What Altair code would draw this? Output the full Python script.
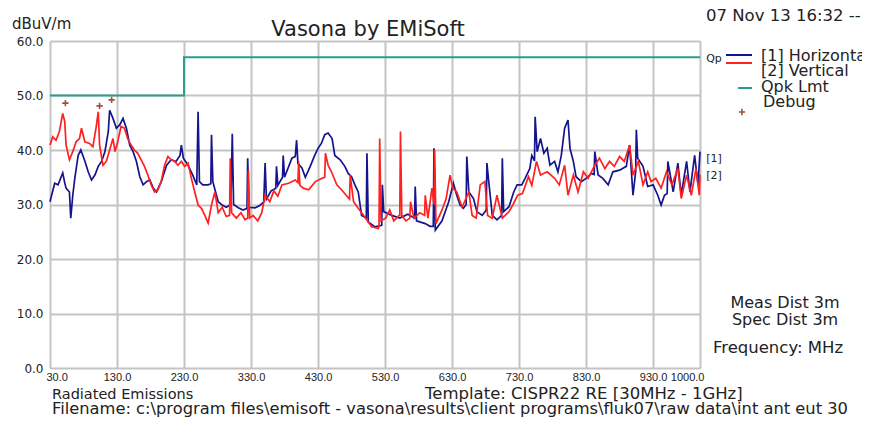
import altair as alt
import pandas as pd

# ---------------- data (MHz, dBuV/m) ----------------
h_freq = [30, 37, 42, 49, 52, 54, 59, 61, 64, 67, 72, 76, 82, 87, 92, 97, 102, 107, 112, 117,
          119, 124, 129, 134, 139, 144, 149, 154, 159, 164, 169, 174, 179, 184, 189, 196, 204, 211, 218, 224,
          226, 229, 236, 243, 249, 251, 253, 258, 266, 270, 271, 273, 281, 287, 293, 300, 302, 304, 311, 318,
          324, 325, 327, 336, 343, 349, 351, 353, 360, 367, 368, 370, 377, 378, 380, 391, 396, 398, 400, 406,
          411, 418, 425, 430, 435, 440, 445, 451, 455, 463, 470, 475, 480, 485, 490, 495, 502, 503, 505, 515,
          525, 526, 528, 540, 552, 564, 574, 575, 577, 590, 597, 602, 603, 605, 615, 625, 632, 637, 642, 647,
          651, 652, 655, 662, 667, 675, 681, 682, 685, 690, 697, 704, 705, 707, 715, 722, 727, 734, 739, 746,
          749, 753, 754, 757, 762, 767, 772, 776, 783, 788, 793, 798, 803, 806, 811, 815, 823, 830, 838, 842,
          843, 848, 855, 863, 870, 880, 890, 895, 900, 904, 905, 907, 915, 922, 930, 937, 942, 947, 951, 952,
          960, 967, 972, 980, 985, 992, 997, 1000]
h_level = [30.5, 33.9, 33.6, 35.8, 34.0, 33.0, 32.3, 27.5, 31.7, 34.8, 39.0, 40.0, 38.0, 36.0, 34.5, 35.4, 37.0, 37.9, 39.7, 43.4,
           47.3, 45.8, 44.0, 44.6, 45.8, 44.0, 40.9, 39.7, 37.9, 35.1, 33.6, 34.2, 34.5, 33.0, 32.3, 34.2, 37.2, 38.2, 37.9, 39.0,
           40.9, 38.5, 37.2, 35.4, 33.6, 47.0, 34.2, 33.6, 33.6, 33.8, 42.8, 34.2, 30.5, 29.9, 29.5, 30.0, 43.0, 30.0, 29.4, 29.0,
           29.3, 38.5, 29.5, 29.4, 29.8, 30.5, 37.6, 31.0, 32.5, 33.0, 37.0, 33.5, 35.0, 39.0, 35.0, 38.5, 38.8, 41.8, 37.5, 36.7,
           35.0, 36.9, 39.0, 40.3, 41.2, 42.8, 43.1, 42.1, 39.0, 38.2, 37.0, 35.7, 35.1, 33.6, 32.3, 28.0, 27.5, 39.4, 26.8, 25.9,
           26.2, 33.6, 28.7, 28.0, 27.5, 28.2, 27.5, 33.3, 27.0, 26.5, 26.0, 26.0, 40.3, 25.3, 27.0, 30.5, 33.9, 31.7, 29.9, 29.3,
           30.0, 38.8, 32.3, 31.1, 28.7, 28.0, 29.0, 37.6, 33.9, 28.0, 27.2, 28.0, 38.5, 28.7, 29.6, 32.3, 33.6, 33.6, 34.8, 36.6,
           39.0, 38.0, 46.1, 39.7, 42.1, 39.4, 40.3, 37.2, 37.9, 36.0, 39.0, 44.0, 45.5, 40.3, 37.9, 35.1, 34.2, 34.8, 35.7, 35.5,
           39.7, 35.4, 34.8, 33.6, 36.0, 36.3, 37.0, 40.9, 31.7, 36.0, 43.7, 38.5, 37.0, 33.3, 33.6, 31.7, 29.9, 31.7, 32.0, 37.9,
           32.3, 37.6, 31.7, 37.9, 32.3, 39.0, 33.6, 39.7]

v_freq = [30, 34, 39, 44, 49, 52, 54, 59, 64, 69, 74, 77, 82, 89, 94, 99, 102, 104, 109, 114,
          119, 124, 127, 131, 136, 141, 146, 151, 156, 161, 166, 171, 176, 181, 186, 191, 196, 201, 206, 211,
          216, 221, 226, 231, 236, 241, 246, 251, 256, 261, 266, 271, 276, 281, 287, 293, 298, 299, 301, 308,
          315, 321, 325, 326, 328, 333, 340, 346, 351, 358, 364, 370, 376, 386, 396, 400, 401, 403, 408, 416,
          426, 436, 440, 441, 445, 450, 458, 465, 472, 477, 478, 483, 490, 498, 505, 510, 520, 521, 522, 524,
          531, 537, 543, 551, 552, 553, 555, 561, 567, 568, 573, 582, 589, 590, 594, 600, 603, 604, 606, 615,
          621, 627, 631, 637, 645, 655, 660, 666, 672, 679, 683, 690, 697, 705, 715, 721, 728, 735, 744, 749,
          756, 762, 772, 783, 790, 798, 803, 811, 818, 826, 833, 843, 850, 858, 865, 872, 880, 887, 895, 900,
          908, 915, 922, 927, 934, 942, 950, 958, 967, 972, 980, 987, 994, 999, 1000]
v_level = [40.9, 42.4, 41.8, 43.4, 46.7, 45.2, 40.9, 38.2, 39.7, 41.5, 42.1, 44.0, 41.5, 41.2, 40.6, 44.3, 47.0, 40.9, 37.2, 37.9,
           40.0, 42.1, 39.7, 41.5, 44.3, 44.0, 42.1, 40.9, 40.0, 39.4, 38.2, 37.0, 35.4, 33.6, 32.3, 32.7, 34.2, 37.2, 38.8, 38.2,
           37.9, 37.2, 37.9, 37.0, 37.6, 34.8, 32.3, 29.9, 29.3, 28.0, 26.6, 29.9, 32.3, 28.5, 29.5, 27.8, 28.0, 38.5, 28.5, 27.5,
           28.5, 27.2, 27.5, 36.3, 27.5, 28.0, 27.0, 28.5, 31.7, 30.5, 32.5, 31.5, 33.6, 33.9, 34.5, 34.0, 37.9, 33.5, 33.0, 32.7,
           34.2, 34.8, 35.0, 39.4, 37.2, 36.0, 33.6, 32.7, 31.7, 31.0, 35.4, 30.5, 29.3, 28.0, 26.8, 25.9, 25.6, 26.0, 42.1, 27.0,
           27.5, 29.0, 27.0, 28.0, 28.0, 43.4, 28.0, 27.0, 27.5, 30.5, 27.5, 28.5, 28.0, 31.7, 27.5, 33.0, 30.0, 40.0, 26.5, 29.0,
           31.0, 35.4, 33.0, 32.3, 29.5, 32.3, 28.0, 27.5, 33.6, 34.2, 28.0, 27.5, 31.7, 27.5, 28.7, 30.0, 31.7, 32.0, 35.1, 33.5,
           37.9, 35.4, 36.0, 34.8, 33.6, 37.2, 31.7, 35.4, 32.3, 36.0, 34.8, 37.2, 38.5, 36.6, 37.9, 37.0, 38.8, 37.9, 40.9, 35.4,
           37.9, 33.6, 36.0, 34.2, 34.8, 33.0, 36.0, 33.6, 36.6, 31.1, 35.4, 31.7, 36.6, 31.7, 35.5]

lim_freq = [30, 230, 1000]
lim_level = [50.0, 57.0, 57.0]

dbg_freq = [53, 104, 122]
dbg_level = [48.6, 48.1, 49.2]

x_ticks = [30, 130, 230, 330, 430, 530, 630, 730, 830, 930, 1000]
y_ticks = [0, 10, 20, 30, 40, 50, 60]

BLUE = "#14148c"
RED = "#ff2020"
TEAL = "#2a9d8f"
DBG = "#a0503a"
GRID = "#c4c4c4"
TXT = "#222222"

traces = pd.concat([
    pd.DataFrame({"freq": h_freq, "level": h_level, "trace": "[1] Horizontal"}),
    pd.DataFrame({"freq": v_freq, "level": v_level, "trace": "[2] Vertical"}),
])
lim_df = pd.DataFrame({"freq": lim_freq, "level": lim_level})
dbg_df = pd.DataFrame({"freq": dbg_freq, "level": dbg_level})

xscale = alt.Scale(domain=[30, 1000], nice=False, zero=False)
yscale = alt.Scale(domain=[0, 60], nice=False)

x_enc = alt.X("freq:Q", scale=xscale, axis=alt.Axis(
    values=x_ticks, format=".1f", title=None, ticks=False, domain=False,
    grid=True, gridColor=GRID, gridWidth=2,
    labelFont="Liberation Sans", labelFontSize=11, labelColor=TXT,
    labelPadding=3, labelFlush=True, labelFlushOffset=4))
y_enc = alt.Y("level:Q", scale=yscale, axis=alt.Axis(
    values=y_ticks, format=".1f", title=None, ticks=False, domain=False,
    grid=True, gridColor=GRID, gridWidth=2,
    labelFont="DejaVu Sans", labelFontSize=12, labelColor=TXT, labelPadding=7))

lines = alt.Chart(traces).mark_line(strokeWidth=1.7).encode(
    x=x_enc, y=y_enc,
    color=alt.Color("trace:N", scale=alt.Scale(domain=["[1] Horizontal", "[2] Vertical"], range=[BLUE, RED]), legend=None),
    order=alt.Order("freq:Q"),
)

limit = alt.Chart(lim_df).mark_line(color=TEAL, strokeWidth=2, interpolate="step-after").encode(
    x=alt.X("freq:Q", scale=xscale), y=alt.Y("level:Q", scale=yscale))

plus = "M-1,0H1M0,-1V1"
dbg = alt.Chart(dbg_df).mark_point(shape=plus, filled=False, color=DBG, strokeWidth=1.6, size=40, opacity=1).encode(
    x=alt.X("freq:Q", scale=xscale), y=alt.Y("level:Q", scale=yscale))

one = alt.Data(values=[{}])


def label(text, x, y, size, align="left", font="DejaVu Sans", color=TXT):
    return alt.Chart(one).mark_text(text=text, align=align, baseline="middle", font=font,
                                    fontSize=size, color=color).encode(x=alt.value(x), y=alt.value(y))


def seg(x1, x2, y, color, w=2):
    return alt.Chart(one).mark_rule(color=color, strokeWidth=w).encode(
        x=alt.value(x1), x2=alt.value(x2), y=alt.value(y))


annots = [
    label("dBuV/m", -38, -17, 15),
    label("Vasona by EMiSoft", 318, -11, 21, align="center"),
    label("07 Nov 13 16:32 --", 656, -25, 16.5),
    label("Qp", 664, 18, 11, align="center"),
    seg(676, 702, 14, BLUE),
    seg(676, 702, 22, RED),
    seg(688, 702, 47, TEAL),
    alt.Chart(one).mark_point(shape=plus, filled=False, color=DBG, strokeWidth=1.6, size=40, opacity=1).encode(
        x=alt.value(692), y=alt.value(71)),
    label("[1] Horizontal", 711, 15, 16),
    label("[2] Vertical", 711, 30, 16),
    label("Qpk Lmt", 711, 46, 16),
    label("Debug", 713, 61, 16),
    label("[1]", 664, 118, 11, align="center"),
    label("[2]", 664, 135, 11, align="center"),
    label("Meas Dist 3m", 735, 262, 16, align="center"),
    label("Spec Dist 3m", 735, 279, 16, align="center"),
    label("Frequency: MHz", 728, 307, 16.5, align="center"),
    label("Radiated Emissions", 2, 354, 14.5),
    label("Template: CISPR22 RE [30MHz - 1GHz]", 375, 353, 16.5),
    label("Filename: c:\\program files\\emisoft - vasona\\results\\client programs\\fluk07\\raw data\\int ant eut 30", 2, 368, 16.3),
]

chart = alt.layer(lines, limit, dbg, *annots).properties(
    width=650, height=327,
    autosize=alt.AutoSizeParams(type="none"),
    padding={"left": 42, "top": 33, "right": 162, "bottom": 51},
).configure_view(stroke=GRID, strokeWidth=2).configure(background="white")

chart.save("out.html", embed_options={"renderer": "svg", "actions": False})
